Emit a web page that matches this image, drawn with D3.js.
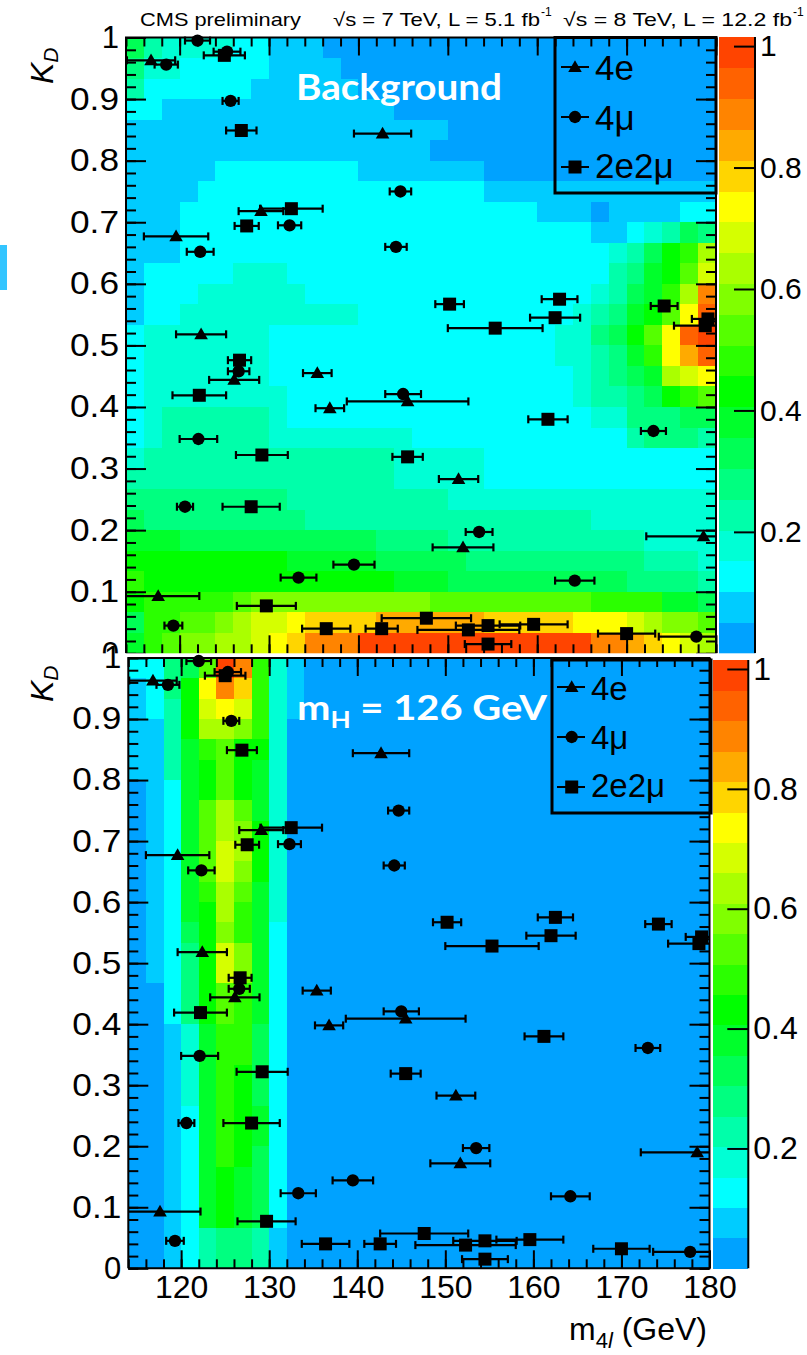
<!DOCTYPE html>
<html>
<head>
<meta charset="utf-8">
<script src="https://cdn.jsdelivr.net/npm/d3@7/dist/d3.min.js"></script>
<style>
html,body{margin:0;padding:0;background:#fff;}
svg{display:block;}
text{font-family:"Liberation Sans",Arial,Helvetica,sans-serif;}
</style>
</head>
<body>
<svg id="chart" width="807" height="1355"></svg>
<script>
// ================= DATA =================
const massRange = [114, 180];
const kdRange = [0, 1];
const massTicks = [120, 130, 140, 150, 160, 170, 180];
const massTickLabels = ["120", "130", "140", "150", "160", "170", "180"];
const kdTicks = [0, 0.1, 0.2, 0.3, 0.4, 0.5, 0.6, 0.7, 0.8, 0.9, 1];
const kdTickLabels = ["0", "0.1", "0.2", "0.3", "0.4", "0.5", "0.6", "0.7", "0.8", "0.9", "1"];
const zTicks = [0.2, 0.4, 0.6, 0.8, 1];
const zTickLabels = ["0.2", "0.4", "0.6", "0.8", "1"];
const zMax = 1.015;
// 20 palette levels (hue of each contour band)
const levelHues = [202, 192, 180, 170, 160, 150, 140, 130, 120, 110, 100, 90, 80, 70, 60, 50, 40, 31, 23, 16];

// 2D templates: 30 rows (K_D from 1 at top to 0 at bottom), 33 columns of 2 GeV (114..180)
// each character = contour level 0..19 (base 36: 0-9, a-j)
const backgroundMap = [
  "643333221110000000000000000000000",
  "533222221111000000000000000000000",
  "422222211111100000000000000000000",
  "221111111111111000000000000000000",
  "111111111111111111000000000000000",
  "111111111111111110000000000000000",
  "111112222222211111110000000000000",
  "111122222222222222221111111111111",
  "111222222222222222222221110111122",
  "111222222222222222222222221123465",
  "11122222222222222222222222234689c",
  "1222223332222222222222222224578ad",
  "1222333333222222222222222234679ch",
  "122333333333322222222222234578aei",
  "23333333222222222222222233568aeij",
  "233333332222222222222222334579egi",
  "233333332222222222222222234567cde",
  "23333333322222222222222223445689a",
  "234444443222222222222222223355566",
  "234444443333333322222222222245554",
  "344444444444444333332222222222222",
  "444444444444444333332222222222222",
  "555555555444444444333333333333333",
  "655555555544444444444444443333333",
  "777666666666665555444444444443333",
  "888888888777776666655555555554443",
  "988888888888888777666666666655554",
  "899999abbbbbbbbbbaaaaaaaaa9999776",
  "699aabcddeffffggggggfffffeeedcbba",
  "79abbccdefhhhjjjjjjjjjjjjjhhgfedc"
];

const signalMap = [
  "2256ajh9310000000000000000000000",
  "1258ehf9310000000000000000000000",
  "1248ded9310000000000000000000000",
  "1148ccb9300000000000000000000000",
  "11479a88300000000000000000000000",
  "11478a87300000000000000000000000",
  "01278a87300000000000000000000000",
  "0127aca7300000000000000000000000",
  "0127acb8300000000000000000000000",
  "0127adc8300000000000000000000000",
  "0127adb8300000000000000000000000",
  "01279ca7300000000000000000000000",
  "01278c97300000000000000000000000",
  "01268b97200000000000000000000000",
  "01258db7200000000000000000000000",
  "01258db7200000000000000000000000",
  "00258a97200000000000000000000000",
  "00258a97200000000000000000000000",
  "00137996200000000000000000000000",
  "00137996200000000000000000000000",
  "00137986200000000000000000000000",
  "00137986200000000000000000000000",
  "00127987200000000000000000000000",
  "00127987200000000000000000000000",
  "00127986200000000000000000000000",
  "00127876200000000000000000000000",
  "00127876200000000000000000000000",
  "00127876200000000000000000000000",
  "00124554100000000000000000000000",
  "00124554100000000000000000000000"
];

// events: [m4l (GeV), K_D, mass error (GeV)]
const events4e = [
  [116.8, 0.963, 2.7], [142.7, 0.844, 3.2], [129.1, 0.718, 2.5], [119.6, 0.677, 3.6],
  [122.4, 0.518, 2.8], [126.1, 0.444, 2.8], [135.4, 0.455, 1.6], [136.8, 0.398, 1.6],
  [145.5, 0.409, 6.8], [151.2, 0.283, 2.2], [151.7, 0.172, 3.4], [178.6, 0.190, 6.4],
  [117.6, 0.093, 4.6]
];
const events4mu = [
  [122.0, 0.995, 1.4], [125.3, 0.977, 1.5], [118.5, 0.956, 1.3], [125.7, 0.897, 0.9],
  [144.7, 0.750, 1.2], [132.3, 0.695, 1.3], [122.3, 0.652, 1.5], [144.2, 0.660, 1.2],
  [126.6, 0.458, 1.2], [145.0, 0.421, 2.0], [122.1, 0.348, 2.1], [173.0, 0.361, 1.4],
  [120.6, 0.238, 0.9], [153.5, 0.197, 1.5], [133.3, 0.123, 2.0], [139.5, 0.144, 2.3],
  [164.2, 0.118, 2.2], [119.3, 0.045, 1.0], [177.8, 0.027, 4.2]
];
const events2e2mu = [
  [125.0, 0.971, 2.3], [126.9, 0.849, 1.7], [132.5, 0.722, 3.5], [127.5, 0.694, 1.35],
  [150.2, 0.567, 1.6], [162.5, 0.575, 2.0], [174.2, 0.564, 1.5], [162.0, 0.545, 2.8],
  [155.3, 0.528, 5.3], [179.1, 0.543, 1.8], [178.8, 0.532, 3.5], [126.7, 0.476, 1.3],
  [122.2, 0.419, 3.0], [129.2, 0.322, 2.9], [145.5, 0.319, 1.7], [161.2, 0.380, 2.2],
  [128.0, 0.238, 3.2], [129.7, 0.077, 3.3], [136.4, 0.040, 2.7], [142.6, 0.040, 1.8],
  [147.6, 0.057, 5.0], [152.3, 0.038, 5.7], [154.5, 0.045, 3.6], [159.6, 0.047, 3.8],
  [154.5, 0.015, 2.6], [170.0, 0.032, 3.2]
];
const legendLabels = ["4e", "4\u03bc", "2e2\u03bc"];

// ================= DRAWING =================
const svg = d3.select("#chart");
const nLevels = levelHues.length;
const paletteColors = levelHues.map(h => d3.hsl(h, 1, 0.5).formatHex());
const zColor = d3.scaleQuantize().domain([0, zMax]).range(paletteColors);
const levelValue = ch => (parseInt(ch, 36) + 0.5) * zMax / nLevels;

const series = [
  {data: events4e, symbol: d3.symbolTriangle, size: 80},
  {data: events4mu, symbol: d3.symbolCircle, size: 120},
  {data: events2e2mu, symbol: d3.symbolSquare, size: 169}
];

function fixMap(rows) {
  return rows.map(r => r.replace(/\s/g, "").padEnd(33, "0").slice(0, 33));
}

function drawPanel(cfg) {
  const g = svg.append("g");
  const x = d3.scaleLinear().domain(massRange).range([cfg.x0, cfg.x1]);
  const y = d3.scaleLinear().domain(kdRange).range([cfg.y1, cfg.y0]);
  const rows = fixMap(cfg.map);
  const nR = rows.length, nC = rows[0].length;
  const bw = (massRange[1] - massRange[0]) / nC;
  const bh = (kdRange[1] - kdRange[0]) / nR;
  const cells = [];
  rows.forEach((row, ri) => {
    const r = nR - 1 - ri;
    for (let c = 0; c < nC; c++) cells.push({c, r, v: levelValue(row[c])});
  });
  g.append("g").selectAll("rect").data(cells).join("rect")
    .attr("x", d => x(massRange[0] + d.c * bw))
    .attr("y", d => y(kdRange[0] + (d.r + 1) * bh))
    .attr("width", d => x(massRange[0] + (d.c + 1) * bw) - x(massRange[0] + d.c * bw) + 0.6)
    .attr("height", d => y(kdRange[0] + d.r * bh) - y(kdRange[0] + (d.r + 1) * bh) + 0.6)
    .attr("fill", d => zColor(d.v))
    .attr("shape-rendering", "crispEdges");

  const tickStyle = sel => {
    sel.select(".domain").remove();
    sel.selectAll(".tick line").attr("stroke", "#000").attr("stroke-width", 2);
    sel.selectAll(".tick text").attr("fill", "#000").style("font-family", '"Liberation Sans",Arial,sans-serif');
  };
  const minorX = x.ticks(33), minorY = y.ticks(50);
  g.append("g").attr("transform", `translate(${cfg.x0},0)`)
    .call(d3.axisLeft(y).tickValues(minorY).tickSize(-10).tickFormat("")).call(tickStyle);
  g.append("g").attr("transform", `translate(${cfg.x0},0)`)
    .call(d3.axisLeft(y).tickValues(kdTicks).tickSize(-20).tickPadding(7)
      .tickFormat((d, i) => kdTickLabels[i])).call(tickStyle)
    .selectAll(".tick text").style("font-size", "31px")
    .each(function() {
      const t = d3.select(this);
      if (t.text().length > 1) t.attr("textLength", 49).attr("lengthAdjust", "spacingAndGlyphs");
    });
  g.append("g").attr("transform", `translate(${cfg.x1},0)`)
    .call(d3.axisRight(y).tickValues(minorY).tickSize(-10).tickFormat("")).call(tickStyle);
  g.append("g").attr("transform", `translate(${cfg.x1},0)`)
    .call(d3.axisRight(y).tickValues(kdTicks).tickSize(-20).tickFormat("")).call(tickStyle);
  g.append("g").attr("transform", `translate(0,${cfg.y0})`)
    .call(d3.axisTop(x).tickValues(minorX).tickSize(-9).tickFormat("")).call(tickStyle);
  g.append("g").attr("transform", `translate(0,${cfg.y0})`)
    .call(d3.axisTop(x).tickValues(massTicks).tickSize(-18).tickFormat("")).call(tickStyle);
  g.append("g").attr("transform", `translate(0,${cfg.y1})`)
    .call(d3.axisBottom(x).tickValues(minorX).tickSize(-9).tickFormat("")).call(tickStyle);
  g.append("g").attr("transform", `translate(0,${cfg.y1})`)
    .call(d3.axisBottom(x).tickValues(massTicks).tickSize(-18).tickPadding(7)
      .tickFormat((d, i) => cfg.xLabels ? massTickLabels[i] : "")).call(tickStyle)
    .selectAll(".tick text").style("font-size", "32px");

  const fr = [[cfg.x0, cfg.y1], [cfg.x0, cfg.y0], [cfg.x1, cfg.y0], [cfg.x1, cfg.y1]];
  if (cfg.bottomFrame) fr.push([cfg.x0, cfg.y1]);
  g.append("path").attr("d", d3.line()(fr)).attr("fill", "none")
    .attr("stroke", "#000").attr("stroke-width", 2);

  // colour bar
  const yc = d3.scaleLinear().domain([0, zMax]).range([cfg.cbY1, cfg.cbY0]);
  const bands = paletteColors.map((col, i) => ({i, lo: i * zMax / nLevels, hi: (i + 1) * zMax / nLevels}));
  g.append("g").selectAll("rect").data(bands).join("rect")
    .attr("x", cfg.cbX).attr("width", cfg.cbW)
    .attr("y", d => yc(d.hi)).attr("height", d => yc(d.lo) - yc(d.hi) + 0.5)
    .attr("fill", d => zColor((d.lo + d.hi) / 2))
    .attr("shape-rendering", "crispEdges");
  g.append("g").attr("transform", `translate(${cfg.cbX + cfg.cbW},0)`)
    .call(d3.axisRight(yc).tickValues(zTicks).tickSize(-21).tickPadding(5)
      .tickFormat((d, i) => zTickLabels[i])).call(tickStyle)
    .selectAll(".tick text").style("font-size", cfg.zFont + "px");
  g.append("line").attr("x1", cfg.cbX + cfg.cbW).attr("x2", cfg.cbX + cfg.cbW)
    .attr("y1", cfg.cbY0).attr("y2", cfg.cbY1).attr("stroke", "#000").attr("stroke-width", 2);

  // events
  const ev = g.append("g");
  series.forEach(s => {
    const grp = ev.append("g").selectAll("g").data(s.data).join("g");
    grp.each(function(d) {
      const gg = d3.select(this);
      const lo = Math.max(d[0] - d[2], massRange[0]), hi = Math.min(d[0] + d[2], massRange[1]);
      const yy = y(d[1]);
      gg.append("line").attr("x1", x(lo)).attr("x2", x(hi)).attr("y1", yy).attr("y2", yy)
        .attr("stroke", "#000").attr("stroke-width", 2.2);
      if (d[0] - d[2] >= massRange[0])
        gg.append("line").attr("x1", x(lo)).attr("x2", x(lo)).attr("y1", yy - 4).attr("y2", yy + 4)
          .attr("stroke", "#000").attr("stroke-width", 2.2);
      if (d[0] + d[2] <= massRange[1])
        gg.append("line").attr("x1", x(hi)).attr("x2", x(hi)).attr("y1", yy - 4).attr("y2", yy + 4)
          .attr("stroke", "#000").attr("stroke-width", 2.2);
    });
  });
  series.forEach(s => {
    ev.append("g").selectAll("path").data(s.data).join("path")
      .attr("d", d3.symbol(s.symbol, s.size))
      .attr("transform", d => `translate(${x(d[0])},${y(d[1]) + (s.symbol === d3.symbolTriangle ? 1 : 0)})`)
      .attr("fill", "#000");
  });

  // legend
  const L = cfg.legend;
  g.append("rect").attr("x", L.x0).attr("y", L.y0).attr("width", L.x1 - L.x0).attr("height", L.y1 - L.y0)
    .attr("fill", "none").attr("stroke", "#000").attr("stroke-width", 3);
  series.forEach((s, i) => {
    const yy = L.rows[i];
    g.append("line").attr("x1", L.lx0).attr("x2", L.lx1).attr("y1", yy).attr("y2", yy)
      .attr("stroke", "#000").attr("stroke-width", 2);
    g.append("path").attr("d", d3.symbol(s.symbol, s.size)())
      .attr("transform", `translate(${L.mx},${yy + (s.symbol === d3.symbolTriangle ? 1 : 0)})`).attr("fill", "#000");
    g.append("text").attr("x", L.tx).attr("y", L.base[i]).attr("font-size", L.font)
      .text(legendLabels[i]);
  });
  return {x, y, g};
}

// top panel (background)
drawPanel({
  map: backgroundMap, x0: 126, x1: 716, y0: 37.5, y1: 653.3,
  cbX: 719, cbW: 36, cbY0: 37, cbY1: 653.3, zFont: 30,
  xLabels: false, bottomFrame: false,
  legend: {x0: 555, y0: 37.5, x1: 716, y1: 193, lx0: 561, lx1: 589, mx: 575,
           rows: [67, 117, 167], tx: 595, base: [80, 130, 178], font: 35}
});

svg.append("text").attr("x", 296).attr("y", 100).attr("fill", "#fff")
  .attr("font-size", 36).attr("font-weight", 700).style("font-family", "Lato, 'Open Sans', sans-serif")
  .attr("textLength", 206).attr("lengthAdjust", "spacingAndGlyphs").text("Background");

// white cover (bottom picture pasted over)
svg.append("rect").attr("x", 0).attr("y", 653.3).attr("width", 807).attr("height", 702).attr("fill", "#fff");

// bottom panel (signal)
drawPanel({
  map: signalMap, x0: 128.3, x1: 709.5, y0: 658, y1: 1268.3,
  cbX: 712.7, cbW: 35.6, cbY0: 660, cbY1: 1268.3, zFont: 32,
  xLabels: true, bottomFrame: true,
  legend: {x0: 552, y0: 660, x1: 711, y1: 813, lx0: 557, lx1: 585, mx: 571.7,
           rows: [687, 737, 787], tx: 591, base: [700, 749, 797], font: 33}
});

const mh = svg.append("text").attr("x", 297).attr("y", 720).attr("fill", "#fff")
  .attr("font-size", 35).attr("font-weight", 700).style("font-family", "Lato, 'Open Sans', sans-serif")
  .attr("textLength", 250).attr("lengthAdjust", "spacingAndGlyphs");
mh.append("tspan").text("m");
mh.append("tspan").attr("font-size", 23).attr("dy", 8).text("H");
mh.append("tspan").attr("dy", -8).text(" = 126 GeV");

function kdTitle(tx, ty) {
  const t = svg.append("text").attr("transform", `translate(${tx},${ty}) rotate(-90)`)
    .attr("font-size", 32).attr("font-style", "italic");
  t.append("tspan").text("K");
  t.append("tspan").attr("font-size", 21).attr("dy", 5).text("D");
}
kdTitle(53, 84);
kdTitle(53, 702);

const xt = svg.append("text").attr("x", 707).attr("y", 1340).attr("text-anchor", "end").attr("font-size", 32);
xt.append("tspan").text("m");
xt.append("tspan").attr("font-size", 22).attr("dy", 8).text("4");
xt.append("tspan").attr("font-size", 22).attr("font-style", "italic").text("l");
xt.append("tspan").attr("dy", -8).text(" (GeV)");

// header
const hdrFont = "'Liberation Sans Narrow','Liberation Sans',Arial,sans-serif";
svg.append("text").attr("x", 140).attr("y", 26).attr("font-size", 19).style("font-family", hdrFont)
  .attr("textLength", 161).attr("lengthAdjust", "spacingAndGlyphs").text("CMS preliminary");
svg.append("text").attr("x", 333).attr("y", 26).attr("font-size", 19).style("font-family", hdrFont)
  .attr("textLength", 207).attr("lengthAdjust", "spacingAndGlyphs").text("\u221as = 7 TeV, L = 5.1 fb");
svg.append("text").attr("x", 541).attr("y", 16).attr("font-size", 12).style("font-family", hdrFont).text("-1");
svg.append("text").attr("x", 563).attr("y", 26).attr("font-size", 19).style("font-family", hdrFont)
  .attr("textLength", 229).attr("lengthAdjust", "spacingAndGlyphs").text("\u221as = 8 TeV, L = 12.2 fb");
svg.append("text").attr("x", 793).attr("y", 16).attr("font-size", 12).style("font-family", hdrFont).text("-1");

// slide artefact at left edge
svg.append("rect").attr("x", 0).attr("y", 245).attr("width", 7).attr("height", 45).attr("fill", "#33c5ff");
</script>
</body>
</html>
